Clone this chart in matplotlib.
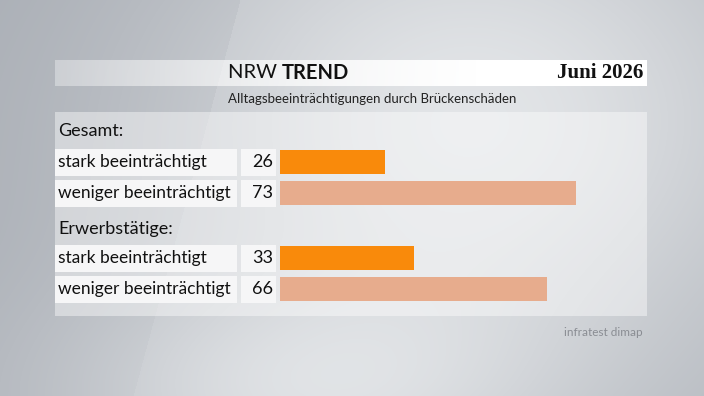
import matplotlib.pyplot as plt
import numpy as np
from matplotlib.patches import Rectangle
from matplotlib.colors import LinearSegmentedColormap

# data
groups = ['Gesamt:', 'Erwerbstätige:']
labels = ['stark beeinträchtigt', 'weniger beeinträchtigt']
gesamt = [26, 73]
erwerbstaetige = [33, 66]
bar_colors = ['#f98a0b', '#e7ac8d']

title_light = 'NRW '
title_bold = 'TREND'
date_text = 'Juni 2026'
subtitle = 'Alltagsbeeinträchtigungen durch Brückenschäden'
source = 'infratest dimap'

W, H = 704, 396
plt.rcParams['font.family'] = ['Lato', 'DejaVu Sans']

fig = plt.figure(figsize=(W / 100, H / 100), dpi=100)

# background in pixel coordinates
bg = fig.add_axes([0, 0, 1, 1])
bg.set_xlim(0, W)
bg.set_ylim(H, 0)
bg.axis('off')

yy, xx = np.mgrid[0:H, 0:W]
light = 0.62
light = light + 0.26 * np.exp(-((xx - 470) / 330) ** 2 - ((yy - 120) / 260) ** 2)
light = light + 0.18 * np.exp(-((xx - 300) / 260) ** 2 - ((yy - 400) / 120) ** 2)
edge = 240 - 0.27 * yy
light = np.where(xx < edge, light - 0.02 * (1 - yy / H), light + 0.02)
cmap = LinearSegmentedColormap.from_list('bg', ['#9ea3ab', '#eceef0'])
bg.imshow(light, cmap=cmap, extent=(0, W, H, 0), aspect='auto', vmin=0.55, vmax=0.95, zorder=0)

# translucent panel
bg.add_patch(Rectangle((55, 112), 592, 204, facecolor='white', alpha=0.42, lw=0, zorder=1))

# header strip, fading in from the left
grad = np.linspace(0, 1, 300)
grad = np.clip(grad * 1.4, 0, 1)[None, :]
hdr_cmap = LinearSegmentedColormap.from_list('hdr', [(1, 1, 1, 0.35), (1, 1, 1, 1)])
bg.imshow(grad, cmap=hdr_cmap, extent=(55, 647, 86, 60), aspect='auto', zorder=2)

t = bg.text(228, 73, title_light, fontsize=14.5, va='center', ha='left', color='#111111', zorder=3)
fig.canvas.draw()
x_bold = 228 + t.get_window_extent().width
bg.text(x_bold, 73, title_bold, fontsize=14.5, fontweight='bold', va='center', ha='left',
        color='#111111', zorder=3)
bg.text(643, 73, date_text, fontsize=15, fontweight='bold', family='Liberation Serif',
        va='center', ha='right', color='#111111', zorder=3)
bg.text(228, 99, subtitle, fontsize=9.5, va='center', ha='left', color='#222222', zorder=3)

bg.text(643, 333, source, fontsize=8.5, va='center', ha='right', color='#8a8d93', zorder=3)

# rows: group header y, row centres y (pixels)
group_y = [131, 229]
row_y = [[162, 193], [258, 289]]
values = [gesamt, erwerbstaetige]

bar_x0 = 280
px_per_unit = 4.05
row_h = 31

for g, name in enumerate(groups):
    bg.text(58, group_y[g], name, fontsize=13, va='center', ha='left', color='#111111', zorder=3)
    for r, lab in enumerate(labels):
        yc = row_y[g][r]
        bg.add_patch(Rectangle((55, yc - 13.5), 182, 27, facecolor='#f6f6f7', lw=0, zorder=2))
        bg.add_patch(Rectangle((241, yc - 13.5), 35, 27, facecolor='#f6f6f7', lw=0, zorder=2))
        bg.text(58, yc, lab, fontsize=12.5, va='center', ha='left', color='#111111', zorder=3)
        bg.text(273, yc, str(values[g][r]), fontsize=13, va='center', ha='right',
                color='#111111', zorder=3)

    # bar axes for this group
    top = row_y[g][0] - row_h / 2
    ax = fig.add_axes([bar_x0 / W, (H - top - 2 * row_h) / H, 100 * px_per_unit / W, 2 * row_h / H])
    ax.barh(range(len(labels)), values[g], height=0.77, color=bar_colors, zorder=3)
    ax.set_xlim(0, 100)
    ax.set_ylim(1.5, -0.5)
    ax.axis('off')
    ax.patch.set_alpha(0)

fig.savefig('out.png', dpi=100)
